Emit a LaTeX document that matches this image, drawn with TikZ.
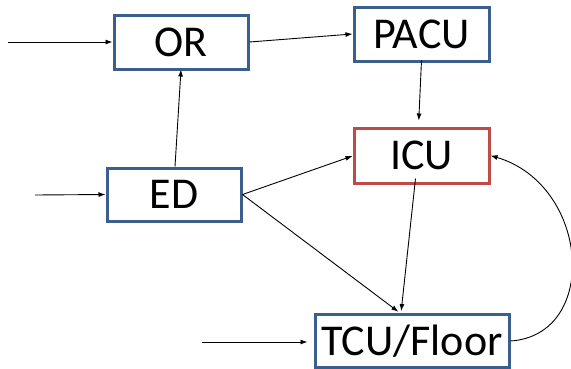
\documentclass[tikz,border=0pt]{standalone}
\usepackage{fontspec}
\setmainfont{Carlito}
\usetikzlibrary{arrows.meta}
\definecolor{boxblue}{HTML}{3A5F8D}
\definecolor{boxred}{HTML}{BE4B48}
\begin{document}
\begin{tikzpicture}[x=1pt,y=-1pt,
  unit/.style={draw=boxblue,line width=3pt,fill=white,rectangle,inner sep=0pt,
    font=\fontsize{44}{44}\selectfont,text=black},
  flow/.style={-{Latex[length=7pt,width=5pt]},line width=0.9pt,black}]
\useasboundingbox (0,0) rectangle (571,368);
\node[unit,minimum width=134pt,minimum height=54pt] (or) at (181,42) {OR};
\node[unit,minimum width=135pt,minimum height=54pt] (pacu) at (421.5,34) {PACU};
\node[unit,draw=boxred,minimum width=135pt,minimum height=55pt] (icu) at (421.5,155.5) {ICU};
\node[unit,minimum width=134pt,minimum height=53pt] (ed) at (174,194.5) {ED};
\node[unit,minimum width=194pt,minimum height=53pt] (tcu) at (412,341) {TCU/Floor};
\coordinate (inor) at (8,42);
\coordinate (ined) at (35,195);
\coordinate (intcu) at (202,342);
\draw[flow] (inor) -- (or.west);
\draw[flow] (ined) -- (ed.west);
\draw[flow] (intcu) -- ([xshift=-6pt]tcu.west |- intcu);
\draw[flow] (or.east) -- (pacu.west);
\draw[flow] ([xshift=1pt]ed.north) -- ([yshift=1pt]or.south);
\draw[flow,shorten >=6pt] ([yshift=2pt]pacu.south) -- ([xshift=-3pt]icu.north);
\draw[flow] (ed.east) -- ([yshift=-0.5pt]icu.west);
\draw[flow,shorten >=2pt] (ed.east) -- ([xshift=-12pt]tcu.north);
\draw[flow,shorten >=2pt] ([xshift=-6pt,yshift=6pt]icu.south) -- ([xshift=-11pt]tcu.north);
\draw[flow] (tcu.east) .. controls (600,335) and (590,185) .. (icu.east);
\end{tikzpicture}
\end{document}
